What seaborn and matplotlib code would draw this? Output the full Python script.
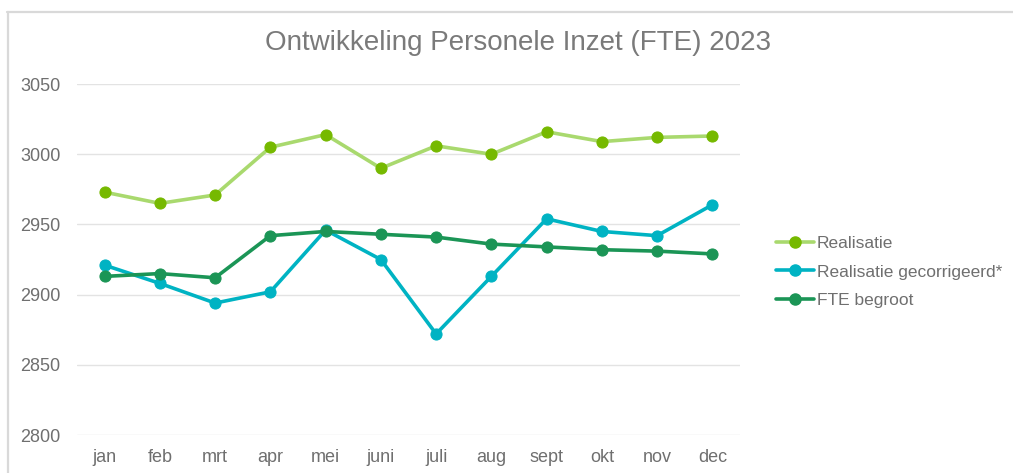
import matplotlib
matplotlib.use("Agg")
import pandas as pd
import matplotlib.pyplot as plt
import seaborn as sns
from matplotlib.lines import Line2D

# Data
months = ['jan', 'feb', 'mrt', 'apr', 'mei', 'juni', 'juli', 'aug', 'sept', 'okt', 'nov', 'dec']
realisatie = [2973, 2965, 2971, 3005, 3014, 2990, 3006, 3000, 3016, 3009, 3012, 3013]
gecorrigeerd = [2921, 2908, 2894, 2902, 2946, 2925, 2872, 2913, 2954, 2945, 2942, 2964]
begroot = [2913, 2915, 2912, 2942, 2945, 2943, 2941, 2936, 2934, 2932, 2931, 2929]

series = ['Realisatie', 'Realisatie gecorrigeerd*', 'FTE begroot']
line_colors = ['#a9d96e', '#00b3c3', '#1b9556']
marker_colors = ['#76b900', '#00b3c3', '#1b9556']

df = pd.DataFrame({'maand': months * 3,
                   'fte': realisatie + gecorrigeerd + begroot,
                   'reeks': [s for s in series for _ in months]})
df['pos'] = df['maand'].map({m: i for i, m in enumerate(months)})

sns.set_style('white')
plt.rcParams['font.family'] = ['Liberation Sans', 'DejaVu Sans']

fig = plt.figure(figsize=(10.13, 4.73), dpi=100)
ax = fig.add_axes([0.076, 0.0803, 0.6545, 0.742])

for s, lc, mc in zip(series, line_colors, marker_colors):
    sub = df[df['reeks'] == s]
    sns.lineplot(data=sub, x='pos', y='fte', ax=ax, color=lc, linewidth=2.6,
                 marker='o', markersize=8, markerfacecolor=mc, markeredgecolor=mc,
                 zorder=3, legend=False)

ax.set_xlim(-0.5, 11.5)
ax.set_ylim(2800, 3050)
ax.set_yticks([2800, 2850, 2900, 2950, 3000, 3050])
ax.set_xticks(range(len(months)))
ax.set_xticklabels(months)
ax.yaxis.grid(True, color='#e3e3e3', linewidth=1)
ax.set_axisbelow(True)
for sp in ax.spines.values():
    sp.set_visible(False)
ax.tick_params(axis='both', length=0, labelsize=13, labelcolor='#6f6f6f')
ax.tick_params(axis='y', pad=12)
ax.tick_params(axis='x', pad=10)
ax.set_xlabel('')
ax.set_ylabel('')

fig.text(0.511, 0.91, 'Ontwikkeling Personele Inzet (FTE) 2023', ha='center', va='center',
         fontsize=20, color='#7a7a7a')

handles = [Line2D([], [], color=lc, linewidth=2.6, marker='o', markersize=8,
                  markerfacecolor=mc, markeredgecolor=mc)
           for lc, mc in zip(line_colors, marker_colors)]
leg = fig.legend(handles, series, loc='center left', bbox_to_anchor=(0.759, 0.425),
                 frameon=False, fontsize=12.5, handlelength=2.2, handletextpad=0.15,
                 labelspacing=0.75, borderaxespad=0)
for t in leg.get_texts():
    t.set_color('#6f6f6f')

# chart border (top and left edges visible)
fig.add_artist(Line2D([7 / 1013, 1], [1 - 12 / 473, 1 - 12 / 473], transform=fig.transFigure,
                      color='#d9d9d9', linewidth=1.6))
fig.add_artist(Line2D([8 / 1013, 8 / 1013], [0, 1 - 12 / 473], transform=fig.transFigure,
                      color='#d9d9d9', linewidth=1.6))

fig.savefig('out.png', dpi=100, facecolor='white')
